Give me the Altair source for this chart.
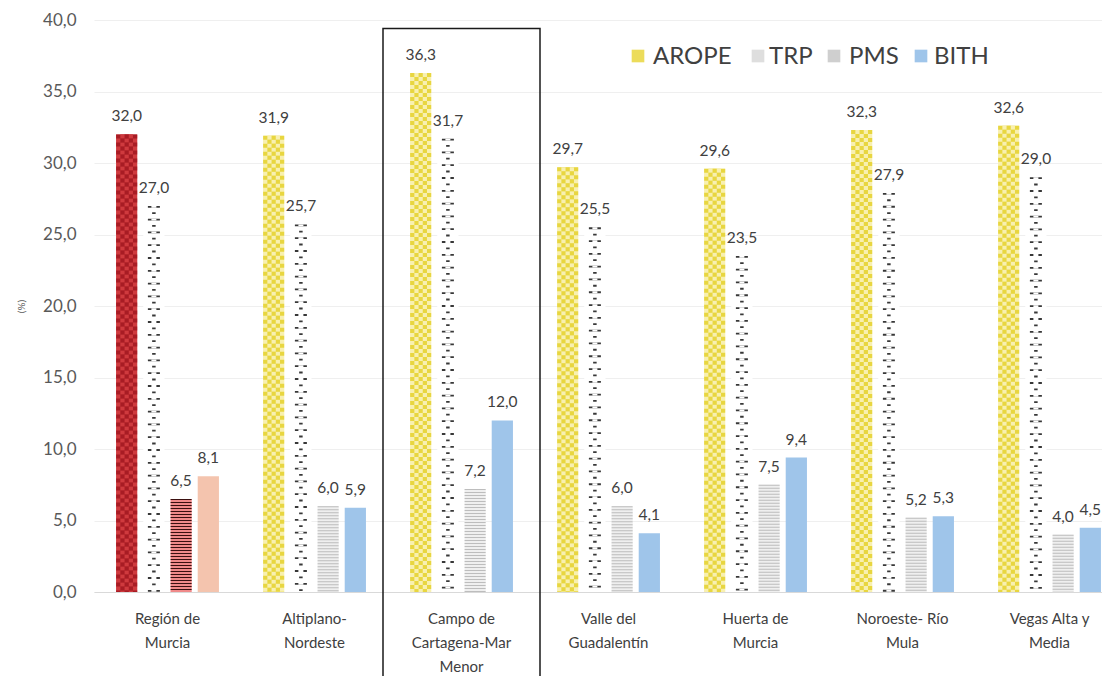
import altair as alt
import pandas as pd

# ---------------- data ----------------
regions = ["Región de|Murcia", "Altiplano-|Nordeste", "Campo de|Cartagena-Mar|Menor",
           "Valle del|Guadalentín", "Huerta de|Murcia", "Noroeste- Río|Mula", "Vegas Alta y|Media"]
series = ["AROPE", "TRP", "PMS", "BITH"]
arope = [32.0, 31.9, 36.3, 29.7, 29.6, 32.3, 32.6]
trp = [27.0, 25.7, 31.7, 25.5, 23.5, 27.9, 29.0]
pms = [6.5, 6.0, 7.2, 6.0, 7.5, 5.2, 4.0]
bith = [8.1, 5.9, 12.0, 4.1, 9.4, 5.3, 4.5]
highlight_region = regions[0]
boxed_region = regions[2]

# styles (not data)
base_colors = {"AROPE": "#f8f0b0", "TRP": "#ffffff", "PMS": "#efefef", "BITH": "#9fc5ea"}
pat_colors = {"AROPE": "#e8d640", "TRP": "#383838", "PMS": "#bdbdbd", "BITH": "#9fc5ea"}
hl_base = {"AROPE": "#cf3a3e", "TRP": "#ffffff", "PMS": "#f08a8a", "BITH": "#f4c4ae"}
hl_pat = {"AROPE": "#a81c24", "TRP": "#383838", "PMS": "#3a1010", "BITH": "#f4c4ae"}

vals = {"AROPE": arope, "TRP": trp, "PMS": pms, "BITH": bith}
rows = []
for i, r in enumerate(regions):
    for s in series:
        hl = r == highlight_region
        rows.append({
            "region": r, "series": s, "value": vals[s][i],
            "base": (hl_base if hl else base_colors)[s],
            "pat": (hl_pat if hl else pat_colors)[s],
        })
df = pd.DataFrame(rows)

W, H = 1008, 572
STEP = 147
FONT = "Lato"
TXT = "#404040"

xscale = alt.Scale(domain=regions, range=[0, STEP * len(regions)], paddingInner=0.3, paddingOuter=0.15)
oscale = alt.Scale(domain=series, paddingInner=0.22, paddingOuter=0)
yscale = alt.Scale(domain=[0, 40], nice=False, zero=True)

X = alt.X("region:N", scale=xscale, sort=regions,
          axis=alt.Axis(title=None, labelAngle=0, labelExpr="split(datum.value, '|')",
                        labelFont=FONT, labelFontSize=15, labelColor=TXT, labelLineHeight=24,
                        labelPadding=19, ticks=False, domainColor="#d9d9d9", labelBaseline="top"))
XO = alt.XOffset("series:N", scale=oscale, sort=series)
Y = alt.Y("value:Q", scale=yscale,
          axis=alt.Axis(values=list(range(0, 41, 5)), title="(%)", titleFont=FONT, titleFontSize=10,
                        titleFontWeight="normal", titleColor="#595959", titlePadding=16,
                        labelExpr="replace(format(datum.value, '.1f'), '.', ',')",
                        labelFont=FONT, labelFontSize=17, labelColor="#595959", labelPadding=18,
                        grid=True, gridColor="#efefef", domain=False, ticks=False))

base = alt.Chart(df)

bars = base.mark_bar().encode(x=X, xOffset=XO, y=Y, fill=alt.Fill("base:N", scale=None))


def pattern(series_name, sw, dash, dashoff, colfield):
    """A dashed rule drawn centred inside each bar: nested rules build the fill texture."""
    return base.transform_filter(alt.datum.series == series_name).mark_rule(
        strokeWidth=sw, strokeDash=dash, strokeDashOffset=dashoff
    ).encode(x=X, xOffset=XO, y=Y, y2=alt.Y2(datum=0), stroke=alt.Stroke(f"{colfield}:N", scale=None))


patterns = [
    # AROPE: checkered (5 alternating columns)
    pattern("AROPE", 21, [4, 4], 0, "pat"),
    pattern("AROPE", 12.6, [4, 4], 0, "base"),
    pattern("AROPE", 12.6, [4, 4], 4, "pat"),
    pattern("AROPE", 4.2, [4, 4], 4, "base"),
    pattern("AROPE", 4.2, [4, 4], 0, "pat"),
    # TRP: rows of "- -" and "-"
    pattern("TRP", 12, [1.8, 11], 0, "pat"),
    pattern("TRP", 5, [1.8, 11], 0, "base"),
    pattern("TRP", 3.5, [1.8, 11], 6.5, "pat"),
    # PMS: fine hatching
    pattern("PMS", 21, [1, 2], 0, "pat"),
]

labels = base.transform_calculate(
    lab="replace(format(datum.value, '.1f'), '.', ',')"
).mark_text(baseline="bottom", dy=-10, font=FONT, fontSize=15.5, color=TXT).encode(
    x=X, xOffset=XO, y=Y, text="lab:N")

box = alt.Chart(pd.DataFrame({"region": [boxed_region]})).mark_bar(
    filled=False, stroke="#1a1a1a", strokeWidth=1.5, width=157
).encode(x=alt.X("region:N", scale=xscale, sort=regions), y=alt.Y(datum=39.4, scale=yscale),
         y2=alt.value(H + 110))

# custom legend (layout positions in pixels)
leg = pd.DataFrame({
    "name": series,
    "sx": [544, 664, 740, 827],
    "tx": [559, 675, 755, 840],
    "col": ["#ecdc5a", "#dedede", "#cfcfcf", "#9fc5ea"],
})
leg_sym = alt.Chart(leg).mark_square(size=160, opacity=1).encode(
    x=alt.X("sx:Q", scale=None), y=alt.value(36), fill=alt.Fill("col:N", scale=None))
leg_txt = alt.Chart(leg).mark_text(align="left", baseline="middle", font=FONT, fontSize=24,
                                   color=TXT).encode(
    x=alt.X("tx:Q", scale=None), y=alt.value(37), text="name:N")

chart = alt.layer(bars, *patterns, labels, box, leg_sym, leg_txt).properties(
    width=W, height=H,
    autosize=alt.AutoSizeParams(type="none"),
    padding={"left": 86, "top": 12, "right": 0, "bottom": 84},
).configure_view(stroke=None)

chart.save("out.html", embed_options={"renderer": "svg", "actions": False})
